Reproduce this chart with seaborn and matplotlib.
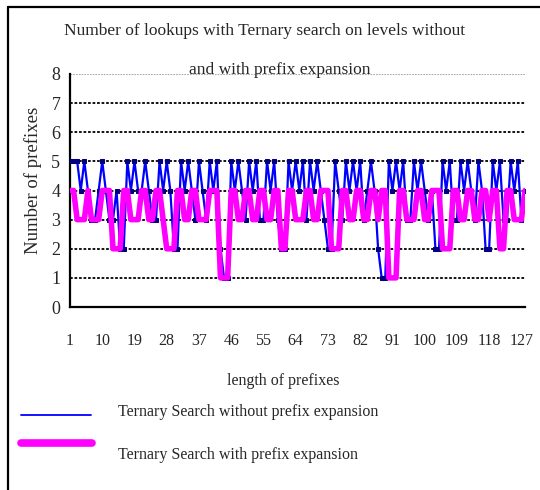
import numpy as np
import seaborn as sns
import matplotlib.pyplot as plt
from matplotlib.lines import Line2D

# prefix lengths 1..128
lengths = list(range(1, 129))

# lookups, ternary search without prefix expansion
no_expansion = [
    5, 5, 5, 4, 5, 4, 3, 3,
    4, 5, 4, 3, 3, 4, 2, 2,
    5, 4, 5, 4, 4, 5, 4, 3,
    3, 5, 4, 5, 4, 2, 2, 5,
    4, 5, 4, 3, 5, 4, 3, 5,
    4, 5, 2, 1, 1, 5, 4, 5,
    4, 3, 5, 4, 5, 3, 3, 5,
    4, 5, 3, 2, 2, 5, 4, 5,
    4, 5, 3, 5, 4, 5, 4, 3,
    2, 2, 5, 4, 3, 5, 4, 5,
    4, 5, 3, 4, 5, 4, 2, 1,
    1, 5, 4, 5, 4, 5, 3, 3,
    5, 4, 5, 4, 3, 4, 2, 2,
    5, 4, 5, 3, 3, 5, 4, 5,
    4, 3, 5, 4, 2, 2, 5, 4,
    5, 3, 3, 5, 4, 5, 3, 4,
]

# lookups, ternary search with prefix expansion
with_expansion = [
    4, 4, 3, 3, 3, 4, 3, 3,
    3, 4, 4, 4, 2, 2, 2, 4,
    4, 3, 3, 3, 4, 4, 3, 3,
    4, 4, 3, 2, 2, 2, 4, 4,
    3, 3, 4, 4, 3, 3, 3, 4,
    4, 4, 1, 1, 1, 4, 4, 3,
    3, 4, 4, 3, 3, 4, 4, 3,
    3, 4, 4, 2, 2, 4, 4, 3,
    3, 3, 4, 4, 3, 3, 4, 4,
    4, 2, 2, 2, 4, 4, 3, 3,
    4, 4, 3, 3, 4, 4, 3, 4,
    4, 1, 1, 1, 4, 4, 3, 3,
    3, 4, 4, 3, 3, 4, 4, 4,
    2, 2, 2, 4, 4, 3, 3, 4,
    4, 3, 3, 4, 4, 3, 4, 4,
    2, 2, 4, 4, 3, 3, 3, 4,
]

label_ticks = list(range(1, 128, 9))
y_ticks = list(range(0, 9))

sns.set_style('white')
plt.rcParams['font.family'] = ['Liberation Serif', 'DejaVu Serif']

W, H = 540, 490
fig = plt.figure(figsize=(W / 100, H / 100), dpi=100)
ax = fig.add_axes([70 / W, 1 - 307 / H, (525 - 70) / W, (307 - 74) / H])

# grid lines
for v in y_ticks[1:-1]:
    ax.axhline(v, color='black', lw=1.3, ls=(0, (1.5, 1)), zorder=1)
ax.axhline(8, color='#aaaaaa', lw=0.8, ls=(0, (1.5, 1)), zorder=1)

sns.lineplot(x=lengths, y=no_expansion, ax=ax, color='#0000ff', lw=1.6,
             marker='s', markersize=3, markerfacecolor='#000080',
             markeredgecolor='#000080', zorder=3)
sns.lineplot(x=lengths, y=with_expansion, ax=ax, color='#ff00ff', lw=4,
             zorder=4)

ax.set_xlim(1, 128)
ax.set_ylim(0, 8)
ax.set_xticks(label_ticks)
ax.set_xticklabels([str(t) for t in label_ticks])
ax.set_xticks(lengths, minor=True)
ax.set_yticks(y_ticks)
ax.tick_params(axis='x', which='both', direction='out', length=5, width=1,
               color='black', labelsize=11.5, pad=14)
ax.tick_params(axis='y', direction='out', length=4, width=1, labelsize=13,
               pad=3)
for s in ['top', 'right']:
    ax.spines[s].set_visible(False)
for s in ['left', 'bottom']:
    ax.spines[s].set_color('black')
    ax.spines[s].set_linewidth(1.6)

ax.set_xlabel('')
ax.set_ylabel('')

fig.text(265 / W, 1 - 31 / H, 'Number of lookups with Ternary search on levels without',
         ha='center', va='center', fontsize=12.5)
fig.text(280 / W, 1 - 70 / H, 'and with prefix expansion',
         ha='center', va='center', fontsize=12.5)
fig.text(33 / W, 1 - 180 / H, 'Number of prefixes', rotation=90,
         ha='center', va='center', fontsize=13.5)
fig.text(283 / W, 1 - 381 / H, 'length of prefixes', ha='center', va='center',
         fontsize=11.5)

# legend
fig.add_artist(Line2D([21 / W, 91 / W], [1 - 415 / H, 1 - 415 / H],
                      color='#0000ff', lw=1.3))
fig.add_artist(Line2D([21 / W, 92 / W], [1 - 443 / H, 1 - 443 / H],
                      color='#ff00ff', lw=5.5, solid_capstyle='round'))
fig.text(118 / W, 1 - 412 / H, 'Ternary Search without prefix expansion',
         ha='left', va='center', fontsize=11.5)
fig.text(118 / W, 1 - 455 / H, 'Ternary Search with prefix expansion',
         ha='left', va='center', fontsize=11.5)

# outer frame (top and left edges visible)
fig.add_artist(Line2D([8 / W, 8 / W], [0, 1 - 7 / H], color='black', lw=1.6))
fig.add_artist(Line2D([8 / W, 1], [1 - 7 / H, 1 - 7 / H], color='black', lw=1.6))

fig.savefig('out.png', dpi=100)
